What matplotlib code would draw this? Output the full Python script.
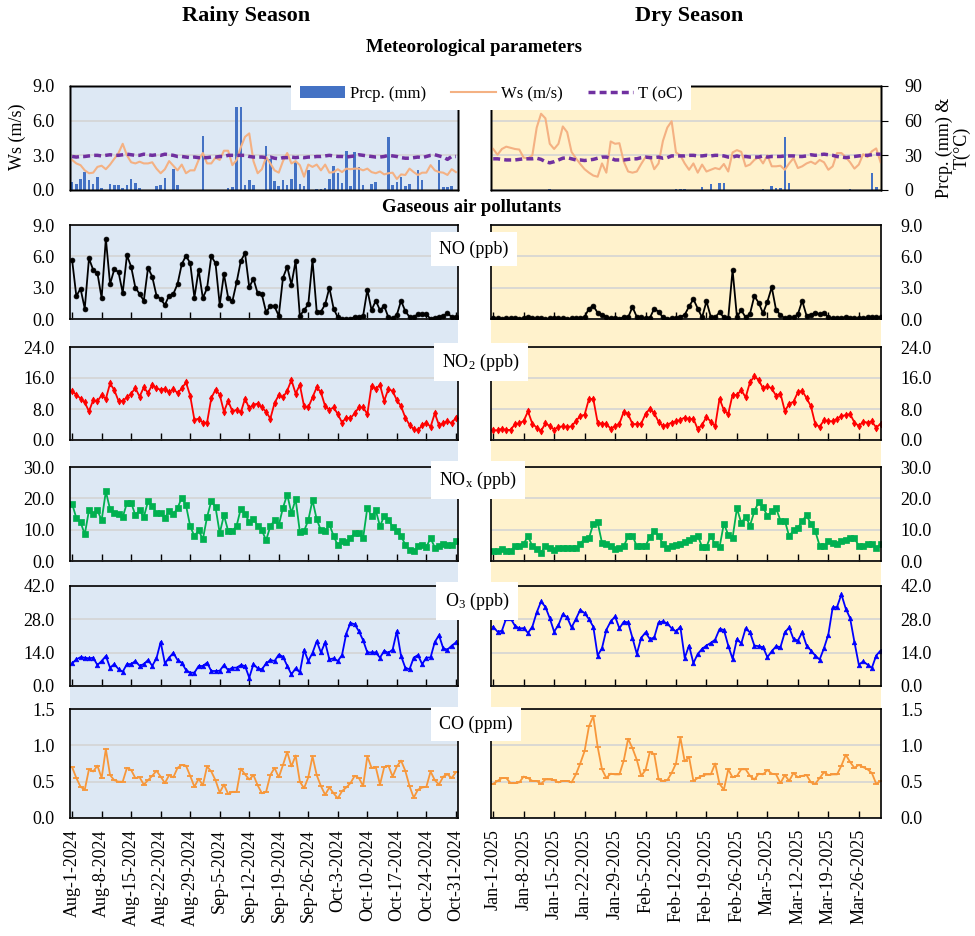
import numpy as np
import matplotlib
matplotlib.use('Agg')
import matplotlib.pyplot as plt
from matplotlib.patches import Rectangle, Patch
from matplotlib.lines import Line2D
from datetime import datetime

plt.rcParams['font.family'] = ['Liberation Serif', 'DejaVu Serif']
plt.rcParams['mathtext.fontset'] = 'custom'
plt.rcParams['mathtext.rm'] = 'Liberation Serif'
plt.rcParams['mathtext.it'] = 'Liberation Serif:italic'

# ---------------- data (daily) ----------------
RAINY_START = datetime(2024, 8, 1)
DRY_START = datetime(2025, 1, 1)

rainy_ticks = ['Aug-1-2024', 'Aug-8-2024', 'Aug-15-2024', 'Aug-22-2024', 'Aug-29-2024',
               'Sep-5-2024', 'Sep-12-2024', 'Sep-19-2024', 'Sep-26-2024', 'Oct-3-2024',
               'Oct-10-2024', 'Oct-17-2024', 'Oct-24-2024', 'Oct-31-2024']
dry_ticks = ['Jan-1-2025', 'Jan-8-2025', 'Jan-15-2025', 'Jan-22-2025', 'Jan-29-2025',
             'Feb-5-2025', 'Feb-12-2025', 'Feb-19-2025', 'Feb-26-2025', 'Mar-5-2025',
             'Mar-12-2025', 'Mar-19-2025', 'Mar-26-2025']

# meteorology - rainy
rainy_prcp = [6.6, 4.9, 9.1, 15.4, 8.3, 5.1, 11.1, 1.7, 0, 5.1,
              4.0, 4.6, 1.4, 4.0, 9.1, 6.0, 1.4, 0, 0, 0,
              3.4, 4.3, 10, 0, 18, 4.3, 0, 0, 0, 0,
              0, 47, 0, 0, 0, 0, 0, 1.4, 2.6, 72,
              72, 4.3, 8.6, 4.3, 0, 0, 38, 27, 7.7, 3.7,
              8.6, 4.3, 9.4, 24, 5.1, 3.4, 17, 0, 0.6, 0.6,
              2, 9.1, 21, 15, 6.3, 34, 3.4, 33, 20, 4.3,
              0, 4.9, 6.6, 0, 0, 46, 4.3, 7.1, 11, 3.7,
              5.4, 0, 17, 8.6, 0, 0, 0, 26, 2.3, 2.3,
              3.4, 0]
rainy_ws = [2.6, 2.3, 2.15, 1.7, 1.45, 1.5, 2.0, 2.1, 1.8, 2.2,
            2.7, 3.2, 4.0, 3.0, 2.4, 2.3, 2.45, 2.3, 2.3, 2.4,
            1.85, 1.45, 1.8, 2.5, 2.1, 1.7, 2.2, 1.45, 1.7, 1.7,
            2.6, 3.2, 2.3, 2.3, 2.8, 2.6, 3.4, 3.4, 2.15, 2.6,
            3.7, 4.6, 4.9, 2.5, 1.45, 1.8, 2.85, 2.3, 1.7, 1.5,
            2.5, 3.2, 2.3, 2.5, 2.15, 1.15, 2.2, 2.0, 2.2, 1.7,
            2.2, 1.5, 1.55, 1.8, 1.55, 1.85, 1.8, 1.85, 1.85, 1.7,
            1.85, 1.55, 1.45, 1.6, 1.35, 1.45, 1.5, 0.95, 1.35, 1.3,
            1.85, 1.55, 1.3, 1.5, 1.5, 2.15, 1.7, 1.55, 1.5, 1.3,
            1.8, 1.55]
rainy_t = [29.0, 28.5, 29.0, 29.0, 29.5, 30.0, 30.0, 29.5, 30.0, 30.5,
           30.0, 30.0, 30.5, 31.0, 30.5, 30.0, 30.0, 31.0, 30.5, 30.0,
           30.5, 30.0, 31.0, 30.5, 30.0, 29.0, 29.0, 28.5, 28.0, 28.5,
           28.0, 28.0, 28.0, 28.5, 28.5, 29.0, 29.0, 30.0, 30.0, 30.0,
           30.0, 30.0, 29.0, 28.5, 28.5, 28.5, 28.0, 28.5, 27.5, 27.0,
           28.0, 28.0, 28.5, 28.0, 28.5, 28.0, 28.5, 28.5, 29.0, 29.0,
           29.5, 30.0, 29.5, 29.0, 29.0, 28.5, 29.0, 29.5, 30.5, 30.0,
           29.5, 29.0, 28.5, 28.5, 29.0, 30.0, 29.5, 29.0, 28.0, 27.5,
           27.5, 28.0, 28.5, 28.0, 29.0, 30.0, 30.5, 29.5, 28.5, 26.5,
           29.0, 29.0]

# meteorology - dry
dry_prcp = [0, 0, 0, 0, 0, 0, 0, 0, 0, 0,
            0, 0, 0, 1.0, 0, 0, 0, 0, 0, 0,
            0, 0, 0, 0, 0, 0, 0, 0, 0, 0,
            0, 0, 0, 0, 0, 0, 0, 0, 0, 0,
            0, 0, 0.5, 0.5, 0.5, 0, 0, 0, 3.0, 0,
            5.6, 0, 5.8, 6.4, 0, 0, 0, 0, 0, 0,
            0, 0, 0.5, 0, 3.6, 1.7, 1.7, 46, 6.4, 0,
            0, 0, 0, 0, 0, 0, 0, 0, 0, 0,
            0, 0, 0.5, 0, 0, 0, 0, 15, 2.8, 0]
dry_ws = [3.55, 3.05, 3.55, 3.75, 3.65, 3.55, 3.5, 2.8, 2.75, 3.0,
          5.4, 6.6, 6.2, 4.0, 3.55, 4.0, 5.5, 5.0, 3.3, 2.75,
          2.25, 1.8, 1.5, 1.25, 1.15, 2.3, 1.5, 4.2, 4.0, 4.05,
          2.45, 1.6, 1.5, 1.6, 2.25, 2.85, 2.9, 1.8, 2.3, 4.25,
          5.4, 5.95, 3.25, 3.0, 2.3, 1.75, 2.3, 1.5, 2.2, 1.6,
          1.75, 1.9, 1.8, 2.25, 1.6, 3.25, 3.45, 3.3, 2.05, 2.2,
          2.6, 2.85, 2.3, 3.0, 2.05, 2.05, 2.1, 1.75, 2.3, 2.75,
          1.9, 2.05, 2.3, 2.45, 2.25, 2.6, 2.4, 1.75, 2.05, 3.2,
          3.2, 2.85, 2.4, 1.85, 2.2, 3.1, 2.85, 3.35, 3.6, 2.4]
dry_t = [27, 27, 26.5, 26, 26, 26, 26.5, 27, 27, 27,
         27.5, 26.5, 24.5, 23.5, 24.5, 26, 27.5, 28, 27, 26,
         26, 25.5, 26, 26.5, 27.5, 28.5, 28.5, 27.5, 26, 26,
         26, 26.5, 27, 27, 28, 28.5, 28, 28, 28.5, 27.5,
         28, 29.5, 29.5, 29.5, 29.5, 30, 30, 29.5, 29.5, 30,
         29.5, 30, 30, 29.5, 28.5, 28.5, 29.5, 28.5, 29, 28.5,
         28.5, 28.5, 29.5, 28.5, 29, 29, 29, 29.5, 29.5, 29.5,
         29, 29, 29.5, 30.5, 30, 30.5, 31, 30.5, 30, 29,
         28.5, 28, 28.5, 29, 29.5, 30, 30, 30.5, 31, 31]

# pollutants - rainy
no_rainy = [5.65, 2.2, 2.9, 1.0, 5.8, 4.7, 4.4, 2.0, 7.7, 3.35,
            4.75, 4.5, 2.5, 6.1, 5.0, 3.0, 2.4, 1.75, 4.9, 4.05,
            2.25, 1.9, 1.35, 2.25, 2.4, 3.35, 5.25, 6.05, 5.35, 2.05,
            4.7, 2.0, 2.95, 6.0, 5.35, 1.35, 4.3, 2.05, 1.7, 3.5,
            5.55, 6.3, 3.05, 3.85, 2.45, 2.35, 0.65, 1.25, 1.2, 0.3,
            3.95, 5.0, 3.3, 5.55, 0.3, 0.85, 1.4, 5.65, 0.7, 0.7,
            1.4, 3.0, 1.0, 0.15, 0.0, 0.0, 0.0, 0.2, 0.2, 0.3,
            2.8, 0.85, 1.75, 0.85, 1.25, 0.15, 0.05, 0.4, 1.75, 0.75,
            0.2, 0.2, 0.45, 0.45, 0.45, 0.0, 0.1, 0.2, 0.3, 0.55,
            0.2, 0.2]
no2_rainy = [12.6, 11.7, 10.7, 9.7, 7.4, 10.3, 10.0, 11.6, 10.6, 14.6,
             12.9, 10.1, 10.1, 11.0, 12.0, 13.4, 11.2, 13.6, 12.1, 14.3,
             13.3, 13.0, 13.2, 12.3, 13.2, 12.1, 13.3, 14.9, 11.4, 5.2,
             5.5, 4.5, 4.5, 10.8, 13.0, 11.7, 7.3, 10.1, 7.4, 7.8,
             7.1, 10.7, 8.2, 9.1, 9.4, 8.4, 7.3, 5.5, 9.5, 11.6,
             11.0, 12.7, 15.5, 12.0, 14.2, 8.7, 8.4, 11.0, 13.6, 12.3,
             8.7, 7.8, 8.4, 6.7, 4.5, 5.8, 5.6, 6.9, 8.4, 8.4,
             6.7, 14.0, 13.2, 14.2, 10.1, 13.2, 12.6, 10.3, 8.7, 5.8,
             3.9, 2.8, 2.5, 3.8, 4.5, 3.4, 6.9, 3.8, 4.3, 4.9,
             4.3, 5.8]
nox_rainy = [18.3, 13.7, 12.4, 8.5, 16.2, 14.9, 16.2, 13.0, 22.2, 16.5,
             15.3, 14.9, 14.0, 18.5, 18.6, 14.6, 16.2, 14.0, 19.1, 17.6,
             15.3, 15.4, 13.8, 15.9, 14.9, 16.9, 20.2, 17.8, 11.1, 7.9,
             9.8, 6.9, 14.0, 19.1, 17.2, 8.9, 14.6, 9.6, 9.6, 11.2,
             16.7, 15.1, 12.4, 13.5, 11.2, 9.8, 6.6, 11.1, 13.0, 11.4,
             17.0, 21.2, 15.3, 19.7, 9.3, 9.6, 13.0, 19.4, 13.3, 9.8,
             9.5, 11.7, 8.0, 5.0, 6.4, 6.1, 7.4, 8.9, 8.9, 7.3,
             17.0, 14.3, 16.2, 11.1, 14.4, 13.2, 10.9, 9.6, 8.0, 5.2,
             3.6, 3.1, 4.7, 5.2, 4.5, 7.3, 4.3, 4.7, 5.5, 5.2,
             5.0, 6.3]
o3_rainy = [9.5, 11.2, 12.1, 11.9, 11.6, 11.9, 8.8, 10.5, 12.6, 7.7,
            9.2, 7.1, 6.0, 9.2, 9.2, 10.5, 8.5, 9.2, 10.9, 8.5,
            11.6, 18.5, 9.5, 11.9, 13.9, 10.9, 9.8, 6.7, 5.6, 5.6,
            8.4, 8.4, 9.8, 6.3, 6.3, 6.4, 8.8, 6.7, 7.7, 7.7,
            8.8, 8.4, 3.5, 9.2, 7.4, 7.0, 9.5, 10.9, 10.5, 13.2,
            12.3, 8.5, 4.9, 7.4, 5.7, 15.1, 10.5, 13.9, 18.8, 14.1,
            18.3, 11.2, 11.6, 10.5, 13.0, 22.0, 26.5, 25.9, 23.0, 19.2,
            14.1, 14.1, 14.1, 11.9, 14.8, 13.9, 15.3, 23.0, 12.6, 7.7,
            7.0, 11.9, 13.0, 9.2, 11.9, 12.0, 18.5, 21.3, 15.8, 15.3,
            16.9, 18.3]
co_rainy = [0.70, 0.55, 0.43, 0.39, 0.67, 0.64, 0.72, 0.55, 0.95, 0.59,
            0.52, 0.50, 0.50, 0.69, 0.66, 0.55, 0.56, 0.46, 0.52, 0.58,
            0.65, 0.57, 0.48, 0.59, 0.56, 0.69, 0.73, 0.72, 0.58, 0.43,
            0.54, 0.45, 0.71, 0.64, 0.52, 0.35, 0.46, 0.33, 0.36, 0.36,
            0.68, 0.60, 0.53, 0.59, 0.45, 0.34, 0.36, 0.59, 0.69, 0.56,
            0.73, 0.91, 0.71, 0.86, 0.50, 0.41, 0.56, 0.85, 0.59, 0.44,
            0.32, 0.42, 0.34, 0.27, 0.37, 0.42, 0.48, 0.58, 0.55, 0.44,
            0.85, 0.69, 0.70, 0.46, 0.70, 0.72, 0.57, 0.71, 0.79, 0.65,
            0.44, 0.28, 0.39, 0.42, 0.43, 0.64, 0.52, 0.46, 0.57, 0.60,
            0.55, 0.63]

# pollutants - dry
no_dry = [0.05, 0.05, 0.0, 0.05, 0.05, 0.05, 0.0, 0.1, 0.15, 0.1,
          0.05, 0.05, 0.0, 0.05, 0.1, 0.05, 0.05, 0.0, 0.05, 0.05,
          0.1, 0.2, 1.0, 1.25, 0.6, 0.4, 0.2, 0.05, 0.05, 0.0,
          0.2, 0.15, 1.15, 0.2, 0.15, 0.05, 0.1, 1.0, 0.7, 0.15,
          0.0, 0.05, 0.05, 0.2, 0.4, 1.2, 1.9, 1.0, 0.15, 1.7,
          0.2, 0.15, 0.65, 0.15, 0.05, 4.7, 0.2, 0.85, 0.15, 0.5,
          2.2, 1.55, 0.55, 1.65, 3.05, 0.85, 0.4, 0.05, 0.15, 0.15,
          0.45, 1.75, 0.3, 0.4, 0.6, 0.45, 0.55, 0.2, 0.05, 0.05,
          0.1, 0.2, 0.1, 0.1, 0.05, 0.1, 0.15, 0.2, 0.2, 0.15]
no2_dry = [2.5, 2.5, 2.9, 2.6, 2.6, 4.1, 4.3, 4.9, 7.4, 4.2,
           3.2, 2.3, 4.3, 3.6, 2.7, 3.4, 3.5, 3.4, 3.5, 4.9,
           6.2, 6.5, 10.6, 10.6, 4.5, 4.2, 4.2, 2.9, 3.6, 4.2,
           7.3, 6.7, 4.1, 4.1, 4.2, 6.7, 8.1, 6.9, 4.7, 3.6,
           3.9, 4.5, 4.8, 5.2, 5.8, 5.4, 5.5, 2.8, 3.9, 6.0,
           4.7, 3.6, 10.7, 7.7, 6.7, 11.7, 11.6, 12.9, 11.0, 14.9,
           16.4, 15.5, 13.3, 13.9, 13.3, 11.4, 12.0, 7.5, 9.3, 9.9,
           12.3, 12.7, 10.8, 8.7, 4.1, 3.4, 5.1, 4.9, 4.8, 5.5,
           6.2, 6.4, 6.7, 4.5, 3.6, 4.7, 4.5, 4.8, 3.2, 4.2]
nox_dry = [3.2, 3.2, 3.7, 3.2, 3.2, 4.7, 4.9, 5.5, 7.9, 4.7,
           3.7, 2.6, 4.9, 4.2, 3.4, 4.0, 4.0, 4.0, 4.0, 4.0,
           5.5, 7.1, 7.2, 11.9, 12.3, 5.8, 5.3, 4.7, 3.7, 4.2,
           4.7, 7.9, 8.1, 4.7, 4.7, 4.9, 7.6, 9.7, 7.9, 5.5,
           4.2, 4.7, 5.1, 5.5, 6.0, 6.8, 7.2, 8.1, 4.5, 4.5,
           8.1, 5.3, 4.4, 11.9, 8.4, 7.4, 16.8, 12.1, 14.2, 11.3,
           15.8, 18.9, 17.1, 14.4, 15.8, 16.8, 12.9, 12.9, 7.9, 9.8,
           10.5, 12.8, 14.6, 11.8, 9.5, 4.9, 4.7, 6.3, 5.8, 5.3,
           6.3, 6.8, 7.2, 7.2, 4.9, 4.7, 5.3, 5.3, 4.2, 5.3]
o3_dry = [24.9, 22.8, 23.2, 28.4, 28.4, 25.3, 24.2, 24.3, 22.3, 24.9,
          30.9, 35.5, 33.2, 28.5, 22.8, 25.6, 30.2, 28.8, 24.6, 28.1,
          32.0, 30.6, 28.1, 24.9, 12.8, 15.9, 23.6, 27.1, 29.2, 24.2,
          27.0, 26.7, 20.2, 13.5, 20.2, 22.5, 19.7, 20.4, 26.7, 27.1,
          26.3, 24.2, 22.9, 24.9, 11.8, 17.0, 9.6, 13.5, 15.6, 17.0,
          18.1, 19.5, 23.9, 23.6, 17.0, 11.4, 19.7, 17.9, 24.2, 22.5,
          17.0, 16.7, 16.3, 12.1, 14.6, 16.7, 16.3, 22.5, 24.6, 19.7,
          19.1, 22.5, 17.0, 14.9, 12.8, 11.1, 15.9, 21.6, 33.0, 33.2,
          38.5, 32.5, 28.5, 18.4, 9.0, 10.3, 9.0, 7.6, 12.8, 14.9]
co_dry = [0.47, 0.51, 0.55, 0.55, 0.48, 0.48, 0.49, 0.57, 0.55, 0.51,
          0.51, 0.47, 0.53, 0.53, 0.52, 0.49, 0.51, 0.51, 0.49, 0.60,
          0.75, 0.92, 1.26, 1.40, 0.98, 0.67, 0.55, 0.61, 0.60, 0.60,
          0.79, 1.09, 0.96, 0.80, 0.58, 0.66, 0.91, 0.88, 0.53, 0.51,
          0.52, 0.62, 0.75, 1.11, 0.78, 0.84, 0.51, 0.55, 0.58, 0.60,
          0.60, 0.75, 0.47, 0.39, 0.67, 0.56, 0.58, 0.67, 0.67, 0.58,
          0.53, 0.61, 0.60, 0.66, 0.61, 0.60, 0.48, 0.59, 0.51, 0.62,
          0.56, 0.58, 0.59, 0.49, 0.47, 0.55, 0.63, 0.59, 0.60, 0.60,
          0.72, 0.87, 0.77, 0.69, 0.73, 0.70, 0.67, 0.62, 0.47, 0.51]

# ---------------- styles ----------------
W, H = 975, 936
BLUE_BG = '#DDE8F4'
YELLOW_BG = '#FFF2CC'
GRID = '#D4D4D4'
BAR_C = '#4472C4'
WS_C = '#F4B183'
T_C = '#7030A0'
COLS = {'L': (70, 458), 'R': (491, 881)}
XLIM = {'L': (-0.5, 91.5), 'R': (-0.5, 89.1)}


def box(x0, y0, x1, y1):
    return [x0 / W, 1 - y1 / H, (x1 - x0) / W, (y1 - y0) / H]


def tick_pos(labels, start):
    return [(datetime.strptime(s, '%b-%d-%Y') - start).days for s in labels]


fig = plt.figure(figsize=(W / 100, H / 100), dpi=100)

# column backgrounds
for side, col in (('L', BLUE_BG), ('R', YELLOW_BG)):
    x0, x1 = COLS[side]
    fig.add_artist(Rectangle((x0 / W, 1 - 818 / H), (x1 - x0) / W, (818 - 225) / H,
                             transform=fig.transFigure, facecolor=col, edgecolor='none', zorder=-1))

# titles
fig.text(246 / W, 1 - 16 / H, 'Rainy Season', ha='center', va='center', fontsize=16, fontweight='bold')
fig.text(689 / W, 1 - 16 / H, 'Dry Season', ha='center', va='center', fontsize=16, fontweight='bold')
fig.text(474 / W, 1 - 48 / H, 'Meteorological parameters', ha='center', va='center', fontsize=13.5, fontweight='bold')
fig.text(472 / W, 1 - 208 / H, 'Gaseous air pollutants', ha='center', va='center', fontsize=13.5, fontweight='bold')

# ---------------- meteorological panels ----------------
met = {'L': (rainy_prcp, rainy_ws, rainy_t, BLUE_BG), 'R': (dry_prcp, dry_ws, dry_t, YELLOW_BG)}
for side in ('L', 'R'):
    prcp, ws, temp, bg = met[side]
    x0, x1 = COLS[side]
    ax = fig.add_axes(box(x0, 86, x1, 190))
    ax.set_facecolor(bg)
    ax.bar(np.arange(len(prcp)), prcp, width=0.6, color=BAR_C, zorder=2)
    ax.set_ylim(0, 90)
    ax.set_yticks([0, 30, 60, 90])
    ax.set_axisbelow(True)
    ax.yaxis.grid(True, color=GRID, lw=1.2)
    ax.set_xlim(*XLIM[side])
    ax.set_xticks([])
    ax2 = ax.twinx()
    ax2.plot(np.arange(len(ws)), ws, color=WS_C, lw=1.5)
    ax2.set_ylim(0, 9)
    ax2.set_yticks([0, 3, 6, 9])
    ax3 = ax.twinx()
    ax3.plot(np.arange(len(temp)), temp, color=T_C, lw=2.5, dashes=(2, 1.2))
    ax3.set_ylim(0, 90)
    ax3.set_yticks([])
    for a in (ax, ax2, ax3):
        for sp in a.spines.values():
            sp.set_color('black')
            sp.set_linewidth(1.0)
    if side == 'L':
        ax.tick_params(axis='y', left=False, right=False, labelleft=False, labelright=False)
        ax2.yaxis.set_ticks_position('left')
        ax2.set_yticklabels(['%.1f' % v for v in [0, 3, 6, 9]])
        ax2.tick_params(axis='y', length=0, pad=11, labelsize=13)
    else:
        ax.yaxis.tick_right()
        ax.set_yticklabels(['%d' % v for v in [0, 30, 60, 90]])
        ax.tick_params(axis='y', length=5, direction='out', pad=12, labelsize=13)
        ax2.tick_params(axis='y', left=False, right=False, labelleft=False, labelright=False)

fig.text(17 / W, 1 - 137 / H, 'Ws (m/s)', rotation=90, ha='center', va='center', fontsize=13)
fig.text(953 / W, 1 - 148 / H, 'Prcp. (mm) &\nT(\u00b0C)', rotation=90, ha='center', va='center',
         multialignment='center', fontsize=13, linespacing=1.0)

handles = [Patch(facecolor=BAR_C), Line2D([], [], color=WS_C, lw=1.5),
           Line2D([], [], color=T_C, lw=2.5, dashes=(2, 1.2))]
leg = fig.legend(handles, ['Prcp. (mm)', 'Ws (m/s)', 'T (oC)'], loc='center',
                 bbox_to_anchor=(491 / W, 1 - 94 / H), ncol=3, fontsize=12, frameon=True,
                 fancybox=False, handlelength=2.7, handletextpad=0.3, columnspacing=1.5,
                 borderpad=0.5)
leg.get_frame().set_facecolor('white')
leg.get_frame().set_edgecolor('none')
leg.get_frame().set_alpha(1)

# ---------------- pollutant panels ----------------
panels = [
    ('NO (ppb)', no_rainy, no_dry, 9, 3, '#000000', 'o', 3.5, (225, 319), (474, 249)),
    ('NO$_\\mathrm{2}$ (ppb)', no2_rainy, no2_dry, 24, 8, '#FF0000', 'd', 3.5, (347, 440), (481, 362)),
    ('NO$_\\mathrm{x}$ (ppb)', nox_rainy, nox_dry, 30, 10, '#00B050', 's', 3.8, (467, 561), (478, 480)),
    ('O$_\\mathrm{3}$ (ppb)', o3_rainy, o3_dry, 42, 14, '#0000FF', '^', 3.3, (586, 686), (477, 601)),
    ('CO (ppm)', co_rainy, co_dry, 1.5, 0.5, '#F7973A', '_', 5, (709, 818), (476, 724)),
]

ticks = {'L': (tick_pos(rainy_ticks, RAINY_START), rainy_ticks),
         'R': (tick_pos(dry_ticks, DRY_START), dry_ticks)}

for i, (lab, yr, yd, ymax, step, col, mk, ms, (top, bot), (lx, ly)) in enumerate(panels):
    last = i == len(panels) - 1
    for side, vals, bg in (('L', yr, BLUE_BG), ('R', yd, YELLOW_BG)):
        x0, x1 = COLS[side]
        ax = fig.add_axes(box(x0, top, x1, bot))
        ax.set_facecolor(bg)
        ax.plot(np.arange(len(vals)), vals, color=col, lw=1.3, marker=mk, ms=ms,
                mec=col, mfc=col, mew=1.3 if mk == '_' else 0.5)
        ax.set_ylim(0, ymax)
        yt = np.arange(0, ymax + step / 2, step)
        ax.set_yticks(yt)
        ax.set_yticklabels(['%.1f' % v for v in yt])
        ax.set_axisbelow(True)
        ax.yaxis.grid(True, color=GRID, lw=1.2)
        ax.set_xlim(*XLIM[side])
        tp, tl = ticks[side]
        ax.set_xticks(tp)
        if last:
            ax.set_xticklabels(tl, rotation=90, fontsize=13, va='top', ha='center')
        else:
            ax.set_xticklabels([])
        ax.tick_params(axis='x', direction='in', length=5, width=1, pad=8)
        for sp in ax.spines.values():
            sp.set_color('black')
            sp.set_linewidth(1.2)
        if side == 'L':
            ax.tick_params(axis='y', length=0, pad=11, labelsize=13)
        else:
            ax.yaxis.tick_right()
            ax.tick_params(axis='y', length=0, pad=14, labelsize=13)
    fig.text(lx / W, 1 - ly / H, lab, ha='center', va='center', fontsize=13, zorder=10,
             bbox=dict(facecolor='white', edgecolor='none', pad=6))

fig.savefig('out.png', dpi=100)
